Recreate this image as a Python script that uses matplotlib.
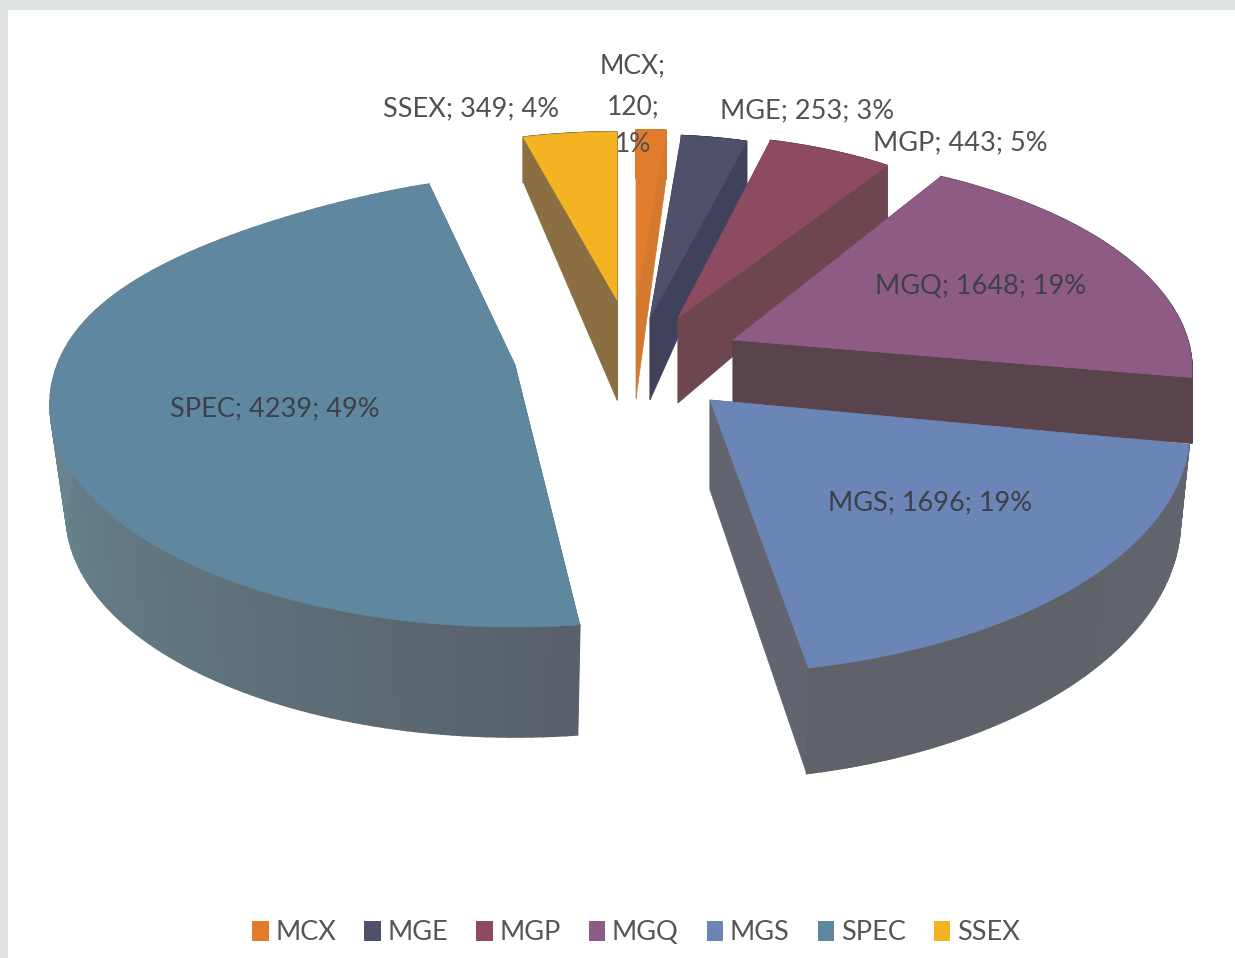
import numpy as np
import matplotlib
matplotlib.use("Agg")
import matplotlib.pyplot as plt
from matplotlib.patches import Patch, Polygon, Rectangle
from matplotlib.colors import to_rgb

plt.rcParams['font.family'] = ['Lato', 'DejaVu Sans']

names = ["MCX", "MGE", "MGP", "MGQ", "MGS", "SPEC", "SSEX"]
values = [120, 253, 443, 1648, 1696, 4239, 349]
percents = [1, 3, 5, 19, 19, 49, 4]

# colours of the top face and of the two ends of the side face
top_colors = ["#e07c2c", "#4f5069", "#8c4b60", "#8e5b84", "#6a85b6", "#5f87a0", "#f3b322"]
side_a = ["#d47a2e", "#3f425a", "#6e4650", "#59434c", "#62656f", "#58606a", "#8b6f42"]
side_b = ["#d47a2e", "#3f425a", "#6e4650", "#59434c", "#5f6369", "#67848f", "#8b6f42"]

# slice layout in image pixels:
# tip x, tip y, centre shift x, centre shift y, rx, ry back, ry front,
# x squeeze at the back, start angle shift, end angle shift, bottom rim x scale
layout = {
    "MCX": (636, 300, 0, 0, 350, 170, 170, 0, 0, 0, 1),
    "MGE": (650, 318, 0, 0, 365, 183, 183, 0, 0, 0, 1),
    "MGP": (678, 318, 0, 0, 378, 183, 183, 0, -1.2, 0, 1),
    "MGQ": (733, 340, 12, 30, 447, 215, 215, 0, -7.6, -9.4, 1),
    "MGS": (710, 400, -10, 30, 490, 244, 244, 0, -8, -4, 0.98),
    "SPEC": (515, 365, 0, 40, 465, 228, 222, 0.29, 0.8, 0, 0.965),
    "SSEX": (617, 300, 0, 0, 378, 168, 168, 0, 0, 0, 1),
}
# side height at the tip and change towards the viewer
depths = {
    "MCX": (98, 50), "MGE": (82, 40), "MGP": (85, 30), "MGQ": (66, 0),
    "MGS": (90, 16), "SPEC": (110, 0), "SSEX": (100, 57),
}
draw_order = ["SSEX", "MCX", "MGE", "MGP", "MGQ", "SPEC", "MGS"]
label_pos = {
    "MCX": (633, 66), "MGE": (807, 111), "MGP": (960, 143), "MGQ": (981, 287),
    "MGS": (930, 503), "SPEC": (275, 409), "SSEX": (471, 109),
}

ends = np.cumsum(values) / np.sum(values) * 2 * np.pi
starts = np.r_[0, ends[:-1]]


def rim(name, t):
    tx, ty, dx, dy, rx, ryb, ryf, kb = layout[name][:8]
    y0 = -np.cos(t)
    sx = np.where(y0 > 0, 1, 1 - kb * y0 ** 4)
    yy = np.where(y0 > 0, ryf * y0, ryb * y0)
    return tx + dx + rx * np.sin(t) * sx, ty + dy + yy, y0


def height(name, y0):
    d0, d1 = depths[name]
    return d0 + d1 * y0


fig = plt.figure(figsize=(12.35, 9.58), dpi=100, facecolor="#dfe3e2")
ax = fig.add_axes([0, 0, 1, 1])
ax.set_xlim(0, 1235)
ax.set_ylim(958, 0)
ax.axis("off")
ax.add_patch(Rectangle((8, 10), 1227, 948, fc="white", ec="none", zorder=0))

for name in draw_order:
    i = names.index(name)
    a0, a1, bs = layout[name][8:]
    t = np.linspace(starts[i] + np.radians(a0), ends[i] + np.radians(a1), 120)
    x, y, y0 = rim(name, t)
    d = height(name, y0)
    tx, ty = layout[name][:2]
    xb = tx + bs * (x - tx)
    dt = height(name, 0)
    ca, cb = np.array(to_rgb(side_a[i])), np.array(to_rgb(side_b[i]))
    # radial side faces
    for j in (0, -1):
        ax.add_patch(Polygon([(tx, ty), (x[j], y[j]), (xb[j], y[j] + d[j]), (tx, ty + dt)],
                             fc=side_a[i], ec=side_a[i], lw=0.5, zorder=1))
    # curved side face, one strip per step so it can shade along the rim
    for j in range(len(t) - 1):
        c = ca + (cb - ca) * min(j / (len(t) * 0.55), 1)
        ax.add_patch(Polygon([(x[j], y[j]), (x[j + 1], y[j + 1]),
                              (xb[j + 1], y[j + 1] + d[j + 1]), (xb[j], y[j] + d[j])],
                             fc=c, ec=c, lw=1.2, zorder=1))
    ax.add_patch(Polygon(np.r_[[(tx, ty)], np.c_[x, y]], fc=top_colors[i], ec=top_colors[i], lw=0.5, zorder=1))

for name, v, p in zip(names, values, percents):
    xp, yp = label_pos[name]
    if name == "MCX":
        ax.text(xp, yp, f"{name};", ha="center", va="center", fontsize=19, color="#555050", zorder=3)
        ax.text(xp, yp + 41, f"{v};", ha="center", va="center", fontsize=19, color="#555050", zorder=3)
        ax.text(xp, yp + 78, f"{p}%", ha="center", va="center", fontsize=19, color="#555050", zorder=3)
    else:
        ax.text(xp, yp, f"{name}; {v}; {p}%", ha="center", va="center", fontsize=19.5,
                color="#3d4048" if name in ("MGS", "SPEC", "MGQ") else "#555050", zorder=3)

handles = [Patch(fc=c, ec="none") for c in top_colors]
ax.legend(handles, names, ncol=7, loc="center", bbox_to_anchor=(636 / 1235, 1 - 933 / 958),
          frameon=False, fontsize=19.5, labelcolor="#555555", handlelength=0.6, handleheight=0.75,
          handletextpad=0.25, columnspacing=1.04, borderpad=0)

fig.savefig("out.png", dpi=100, facecolor=fig.get_facecolor())
